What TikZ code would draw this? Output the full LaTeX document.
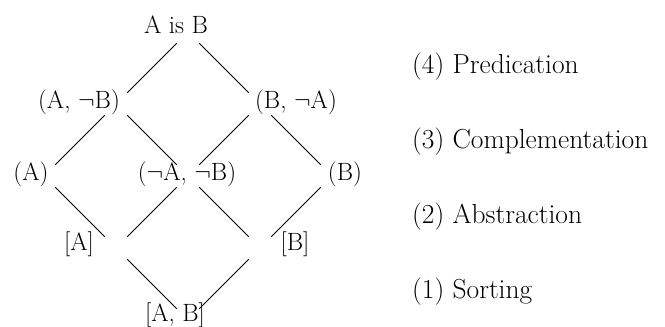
\documentclass[tikz,border=0pt]{standalone}
\begin{document}
\begin{tikzpicture}[x=1pt,y=-1pt,
  lbl/.style={inner sep=0pt, anchor=base, font=\fontsize{25}{30}\selectfont},
  side/.style={inner sep=0pt, anchor=base west, font=\fontsize{27.5}{33}\selectfont},
  edge/.style={line width=0.9pt, shorten <=16pt, shorten >=16pt}]
\useasboundingbox (0,0) rectangle (665,327);
% lattice points
\coordinate (pT)  at (188,32);
\coordinate (pL1) at (116,104);
\coordinate (pR1) at (260,104);
\coordinate (pA)  at (44,176);
\coordinate (pC)  at (188,176);
\coordinate (pB)  at (332,176);
\coordinate (pLA) at (116,248);
\coordinate (pRB) at (260,248);
\coordinate (pBot) at (188,320);
% node texts
\node[lbl] (top) at (176,33) {A is B};
\node[lbl] (anb) at (79,108) {(A, $\neg$B)};
\node[lbl] (bna) at (296,108) {(B, $\neg$A)};
\node[lbl] (a)   at (31,180) {(A)};
\node[lbl] (nanb) at (187,180) {($\neg$A, $\neg$B)};
\node[lbl] (b)   at (345,180) {(B)};
\node[lbl] (sa)  at (79,250) {[A]};
\node[lbl] (sb)  at (295,250) {[B]};
\node[lbl] (sab) at (175,321) {[A, B]};
% side labels
\node[side] (l4) at (412,73)  {(4) Predication};
\node[side] (l3) at (412,148) {(3) Complementation};
\node[side] (l2) at (412,223) {(2) Abstraction};
\node[side] (l1) at (412,298) {(1) Sorting};
% connectors
\draw[edge] (pT) -- (pL1);
\draw[edge] (pT) -- (pR1);
\draw[edge] (pL1) -- (pA);
\draw[edge] (pL1) -- (pC);
\draw[edge] (pR1) -- (pC);
\draw[edge] (pR1) -- (pB);
\draw[edge] (pA) -- (pLA);
\draw[edge] (pC) -- (pLA);
\draw[edge] (pC) -- (pRB);
\draw[edge] (pB) -- (pRB);
\draw[edge] (pLA) -- (pBot);
\draw[edge] (pRB) -- (pBot);
\end{tikzpicture}
\end{document}
